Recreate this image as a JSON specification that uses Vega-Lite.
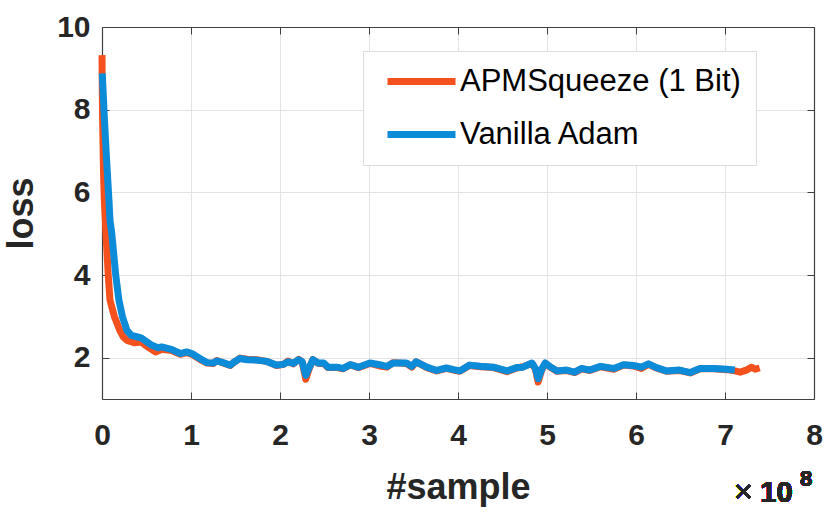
{
  "$schema": "https://vega.github.io/schema/vega-lite/v6.json",
  "width": 712,
  "height": 372,
  "autosize": {"type": "none"},
  "padding": {"left": 102, "top": 27, "right": 17, "bottom": 115},
  "background": "white",
  "config": {
    "font": "Liberation Sans",
    "view": {"stroke": null},
    "axis": {"domainColor": "#404040", "tickColor": "#404040", "labelColor": "#262626", "titleColor": "#262626", "labelFlush": false, "labelOverlap": false}
  },
  "data": {
    "values": [
      {"x": 0.0, "loss": 9.32, "series": "APMSqueeze (1 Bit)"},
      {"x": 0.006, "loss": 7.82, "series": "APMSqueeze (1 Bit)"},
      {"x": 0.017, "loss": 6.5, "series": "APMSqueeze (1 Bit)"},
      {"x": 0.026, "loss": 5.81, "series": "APMSqueeze (1 Bit)"},
      {"x": 0.045, "loss": 5.0, "series": "APMSqueeze (1 Bit)"},
      {"x": 0.07, "loss": 4.0, "series": "APMSqueeze (1 Bit)"},
      {"x": 0.09, "loss": 3.39, "series": "APMSqueeze (1 Bit)"},
      {"x": 0.14, "loss": 2.99, "series": "APMSqueeze (1 Bit)"},
      {"x": 0.2, "loss": 2.66, "series": "APMSqueeze (1 Bit)"},
      {"x": 0.24, "loss": 2.5, "series": "APMSqueeze (1 Bit)"},
      {"x": 0.28, "loss": 2.42, "series": "APMSqueeze (1 Bit)"},
      {"x": 0.37, "loss": 2.36, "series": "APMSqueeze (1 Bit)"},
      {"x": 0.44, "loss": 2.38, "series": "APMSqueeze (1 Bit)"},
      {"x": 0.5, "loss": 2.28, "series": "APMSqueeze (1 Bit)"},
      {"x": 0.6, "loss": 2.14, "series": "APMSqueeze (1 Bit)"},
      {"x": 0.67, "loss": 2.2, "series": "APMSqueeze (1 Bit)"},
      {"x": 0.78, "loss": 2.17, "series": "APMSqueeze (1 Bit)"},
      {"x": 0.88, "loss": 2.08, "series": "APMSqueeze (1 Bit)"},
      {"x": 0.95, "loss": 2.12, "series": "APMSqueeze (1 Bit)"},
      {"x": 1.01, "loss": 2.08, "series": "APMSqueeze (1 Bit)"},
      {"x": 1.1, "loss": 1.96, "series": "APMSqueeze (1 Bit)"},
      {"x": 1.18, "loss": 1.87, "series": "APMSqueeze (1 Bit)"},
      {"x": 1.25, "loss": 1.86, "series": "APMSqueeze (1 Bit)"},
      {"x": 1.29, "loss": 1.93, "series": "APMSqueeze (1 Bit)"},
      {"x": 1.36, "loss": 1.87, "series": "APMSqueeze (1 Bit)"},
      {"x": 1.44, "loss": 1.81, "series": "APMSqueeze (1 Bit)"},
      {"x": 1.49, "loss": 1.9, "series": "APMSqueeze (1 Bit)"},
      {"x": 1.55, "loss": 1.99, "series": "APMSqueeze (1 Bit)"},
      {"x": 1.63, "loss": 1.96, "series": "APMSqueeze (1 Bit)"},
      {"x": 1.74, "loss": 1.95, "series": "APMSqueeze (1 Bit)"},
      {"x": 1.85, "loss": 1.91, "series": "APMSqueeze (1 Bit)"},
      {"x": 1.96, "loss": 1.81, "series": "APMSqueeze (1 Bit)"},
      {"x": 2.04, "loss": 1.84, "series": "APMSqueeze (1 Bit)"},
      {"x": 2.09, "loss": 1.92, "series": "APMSqueeze (1 Bit)"},
      {"x": 2.15, "loss": 1.85, "series": "APMSqueeze (1 Bit)"},
      {"x": 2.21, "loss": 1.96, "series": "APMSqueeze (1 Bit)"},
      {"x": 2.25, "loss": 1.89, "series": "APMSqueeze (1 Bit)"},
      {"x": 2.29, "loss": 1.48, "series": "APMSqueeze (1 Bit)"},
      {"x": 2.33, "loss": 1.75, "series": "APMSqueeze (1 Bit)"},
      {"x": 2.37, "loss": 1.95, "series": "APMSqueeze (1 Bit)"},
      {"x": 2.43, "loss": 1.86, "series": "APMSqueeze (1 Bit)"},
      {"x": 2.49, "loss": 1.86, "series": "APMSqueeze (1 Bit)"},
      {"x": 2.54, "loss": 1.76, "series": "APMSqueeze (1 Bit)"},
      {"x": 2.64, "loss": 1.76, "series": "APMSqueeze (1 Bit)"},
      {"x": 2.71, "loss": 1.73, "series": "APMSqueeze (1 Bit)"},
      {"x": 2.79, "loss": 1.83, "series": "APMSqueeze (1 Bit)"},
      {"x": 2.88, "loss": 1.76, "series": "APMSqueeze (1 Bit)"},
      {"x": 3.01, "loss": 1.86, "series": "APMSqueeze (1 Bit)"},
      {"x": 3.12, "loss": 1.8, "series": "APMSqueeze (1 Bit)"},
      {"x": 3.2, "loss": 1.77, "series": "APMSqueeze (1 Bit)"},
      {"x": 3.27, "loss": 1.88, "series": "APMSqueeze (1 Bit)"},
      {"x": 3.42, "loss": 1.86, "series": "APMSqueeze (1 Bit)"},
      {"x": 3.48, "loss": 1.77, "series": "APMSqueeze (1 Bit)"},
      {"x": 3.53, "loss": 1.9, "series": "APMSqueeze (1 Bit)"},
      {"x": 3.65, "loss": 1.76, "series": "APMSqueeze (1 Bit)"},
      {"x": 3.76, "loss": 1.68, "series": "APMSqueeze (1 Bit)"},
      {"x": 3.87, "loss": 1.74, "series": "APMSqueeze (1 Bit)"},
      {"x": 3.95, "loss": 1.7, "series": "APMSqueeze (1 Bit)"},
      {"x": 4.02, "loss": 1.67, "series": "APMSqueeze (1 Bit)"},
      {"x": 4.13, "loss": 1.81, "series": "APMSqueeze (1 Bit)"},
      {"x": 4.25, "loss": 1.78, "series": "APMSqueeze (1 Bit)"},
      {"x": 4.4, "loss": 1.76, "series": "APMSqueeze (1 Bit)"},
      {"x": 4.55, "loss": 1.66, "series": "APMSqueeze (1 Bit)"},
      {"x": 4.66, "loss": 1.75, "series": "APMSqueeze (1 Bit)"},
      {"x": 4.73, "loss": 1.78, "series": "APMSqueeze (1 Bit)"},
      {"x": 4.83, "loss": 1.86, "series": "APMSqueeze (1 Bit)"},
      {"x": 4.87, "loss": 1.72, "series": "APMSqueeze (1 Bit)"},
      {"x": 4.9, "loss": 1.41, "series": "APMSqueeze (1 Bit)"},
      {"x": 4.94, "loss": 1.7, "series": "APMSqueeze (1 Bit)"},
      {"x": 4.98, "loss": 1.86, "series": "APMSqueeze (1 Bit)"},
      {"x": 5.03, "loss": 1.78, "series": "APMSqueeze (1 Bit)"},
      {"x": 5.11, "loss": 1.67, "series": "APMSqueeze (1 Bit)"},
      {"x": 5.22, "loss": 1.69, "series": "APMSqueeze (1 Bit)"},
      {"x": 5.31, "loss": 1.64, "series": "APMSqueeze (1 Bit)"},
      {"x": 5.39, "loss": 1.73, "series": "APMSqueeze (1 Bit)"},
      {"x": 5.48, "loss": 1.69, "series": "APMSqueeze (1 Bit)"},
      {"x": 5.6, "loss": 1.78, "series": "APMSqueeze (1 Bit)"},
      {"x": 5.75, "loss": 1.72, "series": "APMSqueeze (1 Bit)"},
      {"x": 5.86, "loss": 1.82, "series": "APMSqueeze (1 Bit)"},
      {"x": 5.97, "loss": 1.8, "series": "APMSqueeze (1 Bit)"},
      {"x": 6.06, "loss": 1.74, "series": "APMSqueeze (1 Bit)"},
      {"x": 6.14, "loss": 1.84, "series": "APMSqueeze (1 Bit)"},
      {"x": 6.23, "loss": 1.75, "series": "APMSqueeze (1 Bit)"},
      {"x": 6.34, "loss": 1.67, "series": "APMSqueeze (1 Bit)"},
      {"x": 6.49, "loss": 1.69, "series": "APMSqueeze (1 Bit)"},
      {"x": 6.61, "loss": 1.63, "series": "APMSqueeze (1 Bit)"},
      {"x": 6.72, "loss": 1.73, "series": "APMSqueeze (1 Bit)"},
      {"x": 6.87, "loss": 1.73, "series": "APMSqueeze (1 Bit)"},
      {"x": 7.02, "loss": 1.71, "series": "APMSqueeze (1 Bit)"},
      {"x": 7.11, "loss": 1.68, "series": "APMSqueeze (1 Bit)"},
      {"x": 7.17, "loss": 1.65, "series": "APMSqueeze (1 Bit)"},
      {"x": 7.24, "loss": 1.7, "series": "APMSqueeze (1 Bit)"},
      {"x": 7.3, "loss": 1.77, "series": "APMSqueeze (1 Bit)"},
      {"x": 7.34, "loss": 1.72, "series": "APMSqueeze (1 Bit)"},
      {"x": 7.39, "loss": 1.75, "series": "APMSqueeze (1 Bit)"},
      {"x": 0.003, "loss": 8.88, "series": "Vanilla Adam"},
      {"x": 0.026, "loss": 7.82, "series": "Vanilla Adam"},
      {"x": 0.05, "loss": 6.85, "series": "Vanilla Adam"},
      {"x": 0.078, "loss": 5.81, "series": "Vanilla Adam"},
      {"x": 0.09, "loss": 5.32, "series": "Vanilla Adam"},
      {"x": 0.11, "loss": 5.0, "series": "Vanilla Adam"},
      {"x": 0.154, "loss": 4.0, "series": "Vanilla Adam"},
      {"x": 0.19, "loss": 3.39, "series": "Vanilla Adam"},
      {"x": 0.23, "loss": 2.99, "series": "Vanilla Adam"},
      {"x": 0.28, "loss": 2.66, "series": "Vanilla Adam"},
      {"x": 0.33, "loss": 2.54, "series": "Vanilla Adam"},
      {"x": 0.4, "loss": 2.5, "series": "Vanilla Adam"},
      {"x": 0.44, "loss": 2.48, "series": "Vanilla Adam"},
      {"x": 0.48, "loss": 2.42, "series": "Vanilla Adam"},
      {"x": 0.56, "loss": 2.3, "series": "Vanilla Adam"},
      {"x": 0.63, "loss": 2.24, "series": "Vanilla Adam"},
      {"x": 0.67, "loss": 2.26, "series": "Vanilla Adam"},
      {"x": 0.78, "loss": 2.2, "series": "Vanilla Adam"},
      {"x": 0.88, "loss": 2.1, "series": "Vanilla Adam"},
      {"x": 0.95, "loss": 2.14, "series": "Vanilla Adam"},
      {"x": 1.01, "loss": 2.1, "series": "Vanilla Adam"},
      {"x": 1.1, "loss": 1.98, "series": "Vanilla Adam"},
      {"x": 1.18, "loss": 1.88, "series": "Vanilla Adam"},
      {"x": 1.25, "loss": 1.87, "series": "Vanilla Adam"},
      {"x": 1.29, "loss": 1.92, "series": "Vanilla Adam"},
      {"x": 1.36, "loss": 1.88, "series": "Vanilla Adam"},
      {"x": 1.44, "loss": 1.82, "series": "Vanilla Adam"},
      {"x": 1.49, "loss": 1.9, "series": "Vanilla Adam"},
      {"x": 1.55, "loss": 1.98, "series": "Vanilla Adam"},
      {"x": 1.63, "loss": 1.95, "series": "Vanilla Adam"},
      {"x": 1.74, "loss": 1.94, "series": "Vanilla Adam"},
      {"x": 1.85, "loss": 1.91, "series": "Vanilla Adam"},
      {"x": 1.96, "loss": 1.82, "series": "Vanilla Adam"},
      {"x": 2.04, "loss": 1.84, "series": "Vanilla Adam"},
      {"x": 2.09, "loss": 1.9, "series": "Vanilla Adam"},
      {"x": 2.15, "loss": 1.86, "series": "Vanilla Adam"},
      {"x": 2.21, "loss": 1.95, "series": "Vanilla Adam"},
      {"x": 2.25, "loss": 1.9, "series": "Vanilla Adam"},
      {"x": 2.29, "loss": 1.57, "series": "Vanilla Adam"},
      {"x": 2.33, "loss": 1.77, "series": "Vanilla Adam"},
      {"x": 2.37, "loss": 1.95, "series": "Vanilla Adam"},
      {"x": 2.43, "loss": 1.87, "series": "Vanilla Adam"},
      {"x": 2.49, "loss": 1.87, "series": "Vanilla Adam"},
      {"x": 2.54, "loss": 1.77, "series": "Vanilla Adam"},
      {"x": 2.64, "loss": 1.77, "series": "Vanilla Adam"},
      {"x": 2.71, "loss": 1.74, "series": "Vanilla Adam"},
      {"x": 2.79, "loss": 1.83, "series": "Vanilla Adam"},
      {"x": 2.88, "loss": 1.77, "series": "Vanilla Adam"},
      {"x": 3.01, "loss": 1.87, "series": "Vanilla Adam"},
      {"x": 3.12, "loss": 1.83, "series": "Vanilla Adam"},
      {"x": 3.2, "loss": 1.79, "series": "Vanilla Adam"},
      {"x": 3.27, "loss": 1.87, "series": "Vanilla Adam"},
      {"x": 3.42, "loss": 1.87, "series": "Vanilla Adam"},
      {"x": 3.48, "loss": 1.79, "series": "Vanilla Adam"},
      {"x": 3.53, "loss": 1.9, "series": "Vanilla Adam"},
      {"x": 3.65, "loss": 1.77, "series": "Vanilla Adam"},
      {"x": 3.76, "loss": 1.69, "series": "Vanilla Adam"},
      {"x": 3.87, "loss": 1.75, "series": "Vanilla Adam"},
      {"x": 3.95, "loss": 1.71, "series": "Vanilla Adam"},
      {"x": 4.02, "loss": 1.68, "series": "Vanilla Adam"},
      {"x": 4.13, "loss": 1.82, "series": "Vanilla Adam"},
      {"x": 4.25, "loss": 1.79, "series": "Vanilla Adam"},
      {"x": 4.4, "loss": 1.77, "series": "Vanilla Adam"},
      {"x": 4.55, "loss": 1.68, "series": "Vanilla Adam"},
      {"x": 4.66, "loss": 1.76, "series": "Vanilla Adam"},
      {"x": 4.73, "loss": 1.77, "series": "Vanilla Adam"},
      {"x": 4.83, "loss": 1.87, "series": "Vanilla Adam"},
      {"x": 4.87, "loss": 1.74, "series": "Vanilla Adam"},
      {"x": 4.9, "loss": 1.49, "series": "Vanilla Adam"},
      {"x": 4.94, "loss": 1.72, "series": "Vanilla Adam"},
      {"x": 4.98, "loss": 1.87, "series": "Vanilla Adam"},
      {"x": 5.03, "loss": 1.79, "series": "Vanilla Adam"},
      {"x": 5.11, "loss": 1.68, "series": "Vanilla Adam"},
      {"x": 5.22, "loss": 1.7, "series": "Vanilla Adam"},
      {"x": 5.31, "loss": 1.65, "series": "Vanilla Adam"},
      {"x": 5.39, "loss": 1.74, "series": "Vanilla Adam"},
      {"x": 5.48, "loss": 1.7, "series": "Vanilla Adam"},
      {"x": 5.6, "loss": 1.79, "series": "Vanilla Adam"},
      {"x": 5.75, "loss": 1.74, "series": "Vanilla Adam"},
      {"x": 5.86, "loss": 1.83, "series": "Vanilla Adam"},
      {"x": 5.97, "loss": 1.81, "series": "Vanilla Adam"},
      {"x": 6.06, "loss": 1.77, "series": "Vanilla Adam"},
      {"x": 6.14, "loss": 1.85, "series": "Vanilla Adam"},
      {"x": 6.23, "loss": 1.76, "series": "Vanilla Adam"},
      {"x": 6.34, "loss": 1.68, "series": "Vanilla Adam"},
      {"x": 6.49, "loss": 1.7, "series": "Vanilla Adam"},
      {"x": 6.61, "loss": 1.64, "series": "Vanilla Adam"},
      {"x": 6.72, "loss": 1.74, "series": "Vanilla Adam"},
      {"x": 6.87, "loss": 1.74, "series": "Vanilla Adam"},
      {"x": 7.02, "loss": 1.72, "series": "Vanilla Adam"},
      {"x": 7.11, "loss": 1.7, "series": "Vanilla Adam"}
    ]
  },
  "resolve": {"axis": {"x": "independent", "y": "independent"}},
  "layer": [
    {
      "mark": {"type": "line", "strokeWidth": 7, "strokeJoin": "round"},
      "encoding": {
        "x": {
          "field": "x", "type": "quantitative",
          "scale": {"domain": [0, 8], "nice": false, "zero": false},
          "axis": {
            "orient": "bottom", "values": [0, 1, 2, 3, 4, 5, 6, 7, 8], "format": "d",
            "title": "#sample", "titleFontSize": 36, "titleFontWeight": "bold", "titlePadding": 20,
            "labelFontSize": 30, "labelFontWeight": "bold", "labelPadding": 28,
            "tickSize": -7, "grid": true, "gridColor": "#e3e3e3", "gridWidth": 1, "domainWidth": 1.2
          }
        },
        "y": {
          "field": "loss", "type": "quantitative",
          "scale": {"domain": [1, 10], "nice": false, "zero": false},
          "axis": {
            "orient": "left", "values": [2, 4, 6, 8, 10], "format": "d",
            "title": "loss", "titleFontSize": 36, "titleFontWeight": "bold", "titlePadding": 16,
            "labelFontSize": 30, "labelFontWeight": "bold", "labelPadding": 19,
            "tickSize": -7, "grid": true, "gridColor": "#e3e3e3", "gridWidth": 1, "domainWidth": 1.2
          }
        },
        "color": {
          "field": "series", "type": "nominal",
          "scale": {"domain": ["APMSqueeze (1 Bit)", "Vanilla Adam"], "range": ["#F4511E", "#0B8BD8"]},
          "legend": {
            "orient": "none", "legendX": 261, "legendY": 24, "title": null,
            "symbolType": "M-3.4,0H3.4", "symbolSize": 400, "symbolStrokeWidth": 7, "symbolOffset": 28,
            "labelFontSize": 31, "labelFont": "Liberation Sans", "labelColor": "#000000", "labelOffset": 23, "labelLimit": 0,
            "fillColor": "#ffffff", "strokeColor": "#dddddd", "padding": 15, "rowPadding": 21
          }
        }
      }
    },
    {
      "mark": {"type": "line", "opacity": 0},
      "encoding": {
        "x": {
          "field": "x", "type": "quantitative",
          "scale": {"domain": [0, 8], "nice": false, "zero": false},
          "axis": {"orient": "top", "values": [0, 1, 2, 3, 4, 5, 6, 7, 8], "labels": false, "title": null, "tickSize": -7, "grid": false, "domainWidth": 1.2}
        },
        "y": {
          "field": "loss", "type": "quantitative",
          "scale": {"domain": [1, 10], "nice": false, "zero": false},
          "axis": {"orient": "right", "values": [2, 4, 6, 8, 10], "labels": false, "title": null, "tickSize": -7, "grid": false, "domainWidth": 1.2}
        }
      }
    },
    {
      "mark": {"type": "text", "text": "×", "fontSize": 32, "fontWeight": "normal", "align": "right", "baseline": "alphabetic", "color": "#262626"},
      "encoding": {
        "x": {"datum": 7.31, "type": "quantitative", "scale": {"domain": [0, 8], "nice": false, "zero": false}, "axis": null},
        "y": {"datum": -1.5, "type": "quantitative", "scale": {"domain": [1, 10], "nice": false, "zero": false}, "axis": null}
      }
    },
    {
      "mark": {"type": "text", "text": "10", "fontSize": 29, "fontWeight": "bold", "align": "right", "baseline": "alphabetic", "color": "#262626"},
      "encoding": {
        "x": {"datum": 7.76, "type": "quantitative", "scale": {"domain": [0, 8], "nice": false, "zero": false}, "axis": null},
        "y": {"datum": -1.5, "type": "quantitative", "scale": {"domain": [1, 10], "nice": false, "zero": false}, "axis": null}
      }
    },
    {
      "mark": {"type": "text", "text": "8", "fontSize": 22, "fontWeight": "bold", "align": "right", "baseline": "alphabetic", "color": "#262626"},
      "encoding": {
        "x": {"datum": 7.98, "type": "quantitative", "scale": {"domain": [0, 8], "nice": false, "zero": false}, "axis": null},
        "y": {"datum": -1.1, "type": "quantitative", "scale": {"domain": [1, 10], "nice": false, "zero": false}, "axis": null}
      }
    }
  ]
}
